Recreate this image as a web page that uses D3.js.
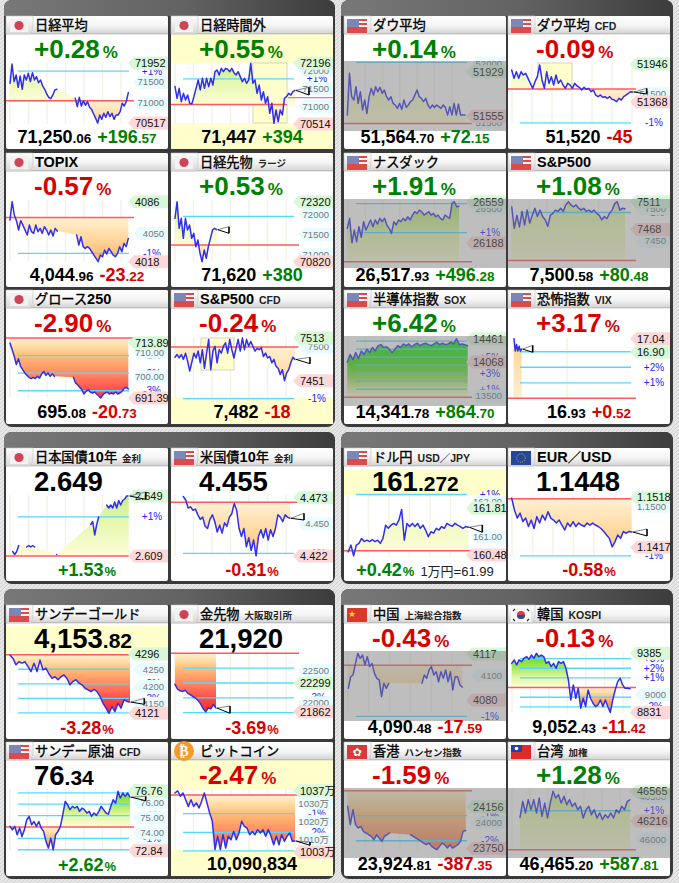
<!DOCTYPE html>
<html><head><meta charset="utf-8">
<style>html,body{margin:0;padding:0;background:#e2e2e2}svg{display:block}text{font-family:"Liberation Sans","Noto Sans CJK JP",sans-serif}</style>
<script src="https://cdn.jsdelivr.net/npm/d3@7"></script></head><body><script>
const _=null;
// ---- series values
const nikkei=[71472,71936,71512,71672,71376,71648,71328,71672,71552,71712,71512,71728,71552,71632,71488,71552,71408,71328,71216,71136,71104,71192,71312,71328,_,_,_,_,_,_,_,_,71112,70912,71136,70928,71056,70944,71032,70896,70848,70736,70632,70517,70712,70608,70752,70656,70792,70672,70752,70608,70712,70712,70792,70992,70928,71032,71250];
const nikkeiOff=[71550,71226,71503,71133,71364,71180,71318,71087,71069,71272,71503,71734,71457,71780,71503,71780,71550,71780,71595,71965,72011,71873,72057,71965,72057,72030,71965,72057,71937,71873,71965,71826,71688,71780,71642,71734,72196,71642,71734,71364,71595,71180,71410,71087,71272,70810,71087,70533,70902,70580,70902,70764,71226,71272,71364,71318,71410,71447];
const topix=[4065.2,4086,4070.9,4064.5,4053.9,4064.5,4059.5,4053.9,4048.2,4059.5,4052,4050.1,4059.5,4052,4055.8,4050.1,4057.6,4053.9,4048.2,4053.9,4047,4055.8,4052.7,_,_,_,_,_,_,_,_,4048.2,4036.9,4046.3,4035,4033.1,4035,4033.1,4029.3,4025.5,4021.7,4018,4025.5,4023.6,4031.2,4026.7,4033.1,4029.3,4025.5,4023.6,4027.4,4035,4029.3,4038.8,4035,4044.4];
const nikkeiFut=[71904,72320,71654,71904,71404,71904,71612,71737,71404,71529,71196,71362,71029,70820,71112,70904,71196,71404,71612,71654,71620];
const growth=[713.8,711.1,708.4,705,707.4,704.3,702.9,701.6,700.6,699.8,699.3,699.8,699.3,700.2,699.5,701.2,702.2,700.6,701.6,700.2,701.2,700.2,_,_,_,_,_,_,_,_,699.8,697.5,696.8,695.7,694.8,693,694.1,694.8,693.8,693.4,693.8,693,692.2,691.4,692.7,693.4,693.8,693,693.4,693,693.8,693,693.4,694.1,695.2,695.7,695.08];
const spCfd=[7485,7489,7484,7489,7482,7491,7479,7465,7478,7491,7484,7494,7477,7496,7469,7491,7511,7467,7494,7501,7477,7496,7491,7501,7506,7491,7511,7496,7484,7498,7511,7494,7513,7496,7511,7501,7508,7501,7494,7498,7496,7499,7486,7491,7484,7486,7477,7482,7472,7469,7460,7467,7451,7462,7467,7477,7485,7482];
const dow=[51564,51916,51719,51691,51803,51663,51761,51607,51691,51579,51719,51789,51733,51803,51761,51798,51747,51775,51719,51691,51719,51663,51649,51621,51663,51612,51691,51629,51649,51677,51691,51733,51775,51719,51705,51677,51705,51649,51621,51649,51629,51649,51635,51621,51649,51629,51564,51635,51564,51663,51564,51657,51564,51564,51564];
const dowCfd=[51855,51728,51829,51728,51829,51779,51804,51728,51652,51576,51677,51753,51931,51703,51576,51829,51652,51753,51627,51779,51652,51703,51627,51576,51652,51627,51576,51652,51611,51591,51550,51591,51561,51576,51525,51550,51474,51449,51474,51439,51449,51424,51449,51409,51398,51373,51424,51398,51449,51474,51500,51525,51520];
const nasdaq=[26320,26410,26191,26305,26200,26335,26239,26380,26305,26350,26395,26335,26395,26359,26410,26380,26410,26350,26320,26275,26380,26350,26395,26380,26410,26389,26424,26395,26439,26469,26454,26484,26469,26439,26454,26469,26439,26454,26424,26439,26410,26395,26439,26424,26410,26544,26559,26514,26518];
const sp500=[7503,7470,7490,7472,7496,7475,7498,7478,7490,7501,7488,7498,7488,7483,7473,7490,7493,7498,7496,7501,7496,7506,7511,7506,7503,7506,7501,7498,7501,7496,7498,7495,7498,7493,7490,7483,7488,7485,7493,7498,7508,7511,7498,7501,7500];
const sox=[14068,14197,14109,14227,14127,14256,14197,14285,14227,14314,14256,14344,14361,14314,14326,14285,14227,14285,14344,14314,14373,14344,14373,14326,14361,14385,14344,14373,14385,14361,14344,14373,14402,14361,14385,14361,14373,14402,14373,14461,14361,14373,14361,14342];
const vix=[17.04,16.91,16.98,16.91,16.96,16.91,16.93];
const jgb=[2.612,2.610,2.612,2.616,_,_,_,2.615,2.616,2.615,2.616,2.615,_,_,_,_,_,_,_,_,_,_,2.610,_,_,_,_,_,_,_,_,_,_,_,_,_,_,_,_,2.630,2.632,2.623,2.630,2.635,_,_,_,2.643,2.641,2.643,2.641,2.645,2.641,2.646,2.643,2.646,2.647,2.649,2.649];
const ust=[4.474,4.471,4.464,4.465,4.462,4.463,4.458,4.454,4.456,4.448,4.446,4.454,4.458,4.452,4.443,4.449,4.442,4.451,4.448,4.456,4.459,4.468,4.462,4.446,4.439,4.446,4.430,4.438,4.427,4.436,4.422,4.439,4.445,4.438,4.446,4.436,4.445,4.439,4.446,4.458,4.456,4.452,4.458,4.456,4.455];
const usdjpy=[160.57,160.76,160.45,160.76,160.81,160.95,160.86,160.90,160.86,160.92,160.86,160.90,160.81,160.95,161.33,161.24,161.33,161.38,161.33,161.48,161.78,160.90,161.38,161.29,161.38,161.29,161.38,161.24,161.33,161.19,161,161.14,161.10,161.24,161.19,161.29,161.24,161.38,161.33,161.30,161.38,161.33,161.29,161.24,161.29,161.27];
const eurusd=[1.1516,1.1492,1.1476,1.1486,1.1469,1.1476,1.1459,1.1472,1.1455,1.1479,1.1466,1.1482,1.1472,1.1489,1.1476,1.1472,1.1466,1.1472,1.1462,1.1452,1.1466,1.1459,1.1469,1.1459,1.1466,1.1462,1.1459,1.1466,1.1462,1.1466,1.1462,1.1459,1.1455,1.1449,1.1442,1.1435,1.1418,1.1428,1.1442,1.1435,1.1449,1.1445,1.1449,1.1448];
const gold=[4293,4283,4264,4273,4269,4273,4259,4244,4269,4244,4278,4249,4254,4237,4224,4229,4220,4229,4234,4224,4205,4215,4220,4210,4205,4195,4190,4185,4192,4185,4171,4151,4136,4121,4141,4126,4151,4136,4161,4156,4154];
const goldFut=[22285,22210,22185,22175,22195,22145,22125,22095,22075,22035,21985,21910,21862,21925,21910,21975,21920];
const oil=[74.43,74.21,74.43,73.88,74.32,73.77,74.21,74.86,75.08,74.54,74.75,74.43,74.75,74.32,74.10,73.45,73.01,73.66,72.90,73.88,74.10,74.43,75.19,76.06,75.84,75.52,75.74,75.63,75.74,75.41,75.63,75.52,75.30,75.41,75.08,75.30,75.15,75.41,75.74,75.52,75.30,75.23,75.74,76.17,75.95,76.72,76.28,76.61,76.39,76.61,76.34];
const btc=[1035.7,1037,1033.9,1035.7,1032,1028.3,1032,1028.3,1030.2,1027.4,1031.1,1035.7,1030.2,1024.6,1020,1004.3,1011.7,1004.3,1012.6,1005.2,1011.7,1009.8,1014.4,1009.8,1013.5,1020,1017.2,1016.3,1012.6,1014.4,1012.6,1015.4,1013.5,1015.4,1011.7,1015.4,1011.7,1007,1011.7,1007,1012.6,1008.9,1011.7,1013.5,1008.9,1009.1];
const shanghai=[4089.5,4098.8,4100.2,4109.5,4117.5,4113.5,4116.2,4108.2,4114.9,4106.9,4109.5,4101.5,4097.5,4096.2,4082.8,4093.5,4089.5,4093.5,_,_,_,_,_,_,_,_,_,_,_,_,_,4093.5,4100.2,4097.5,4104.2,4106.9,4100.2,4102.8,4094.8,4102.8,4097.5,4104.2,4094.8,4102.8,4088.2,4098.8,4098.8,4092.2,4090.5];
const kospi=[9291,9323,9276,9323,9307,9338,9354,9329,9369,9338,9385,9354,9369,9354,9291,9307,9260,9291,9245,9307,9291,9307,9245,9135,8948,9089,8964,9057,8870,8964,8886,9042,8964,8917,8886,8901,8948,8886,8948,8886,8831,8948,9042,9120,9151,9089,9057,9057,9052];
const hangseng=[24160,23982,24127,23982,23949,23965,23917,23901,23884,23868,23836,23884,23852,23820,23868,23884,23901,_,_,_,_,_,_,_,23884,23868,23852,23836,23820,23803,23787,23803,23771,23755,23739,23771,23803,23787,23755,23787,23755,23771,23787,23820,23917,23925];
const taiwan=[46258,46447,46310,46467,46349,46467,46310,46486,46270,46427,46251,46427,46565,46486,46526,46427,46506,46408,46467,46388,46427,46349,46388,46251,46349,46388,46290,46349,46251,46310,46231,46290,46251,46310,46251,46349,46310,46388,46349,46447,46465];

// ---- categories and labels, in display order
const titles=["日経平均","日経時間外","TOPIX","日経先物","グロース250","S&P500","ダウ平均","ダウ平均","ナスダック","S&P500","半導体指数","恐怖指数","日本国債10年","米国債10年","ドル円","EUR／USD","サンデーゴールド","金先物","サンデー原油","ビットコイン","中国","韓国","香港","台湾"];
const subtitles=["","","","ラージ","","CFD","","CFD","","","SOX","VIX","金利","金利","USD／JPY","","","大阪取引所","CFD","","上海総合指数","KOSPI","ハンセン指数","加権"];
const flags=["jp","jp","jp","jp","jp","us","us","us","us","us","us","us","jp","us","us","eu","us","jp","us","btc","cn","kr","hk","tw"];
const seriesList=[nikkei,nikkeiOff,topix,nikkeiFut,growth,spCfd,dow,dowCfd,nasdaq,sp500,sox,vix,jgb,ust,usdjpy,eurusd,gold,goldFut,oil,btc,shanghai,kospi,hangseng,taiwan];
const prevCloses=[71053,71053,4068.18,71240,715.81,7500,51492.55,51565,26021.65,7420.1,13477.08,16.41,2.609,4.469,160.6,1.1515,4294,22760,74.39,1034.6,4108.07,9063.85,24312.16,45877.39];
const topY=[71952,72196,4086,72320,715.81,7513,52000,51946,26559,7511,14461,17.04,2.649,4.473,162,1.1518,4296,22760,76.76,1037,4117,9385,24312,46565];
const bottomY=[70496,70514,4018,70820,691.38,7451,51500,51368,26021,7418.3,13465,16.41,2.609,4.422,160.448,1.1417,4121,21840,72.84,1003.7,4069.2,8823,23729,45866];
const highLabels=["71952","72196","4086","72320","713.89","7513","51929","51946","26559","7511","14461","17.04","2.649","4.473","161.81","1.1518","4296","22299","76.76","1037万","4117","9385","24156","46565"];
const lowLabels=["70517","70514","4018","70820","691.39","7451","51555","51368","26188","7468","14068","16.90","2.609","4.422","160.48","1.1417","4121","21862","72.84","1003万","4080","8831","23750","46216"];
const tickLabels=[["71500","71000"],["72000","71500","71000"],["4050"],["72000","71500","71000"],["710.00","700.00"],["7500"],["52000","51500"],["51500"],["26500"],["7500","7450"],["13500"],[],[],["4.450"],["162.00","161.00"],["1.1500"],["4250","4200","4150"],["22500","22000"],["76.00","75.00","74.00","73.00"],["1030万","1020万","1010万"],["4100"],["9000"],["24000"],["46500","46000"]];
const pctLines=[[1],[1],[-1],[1],[-1,-2,-3],[-1],[1],[-1],[1,2],[1],[1,2,3,4,5,6,7],[1,2,3],[1],[-1],[1],[-1],[-1,-2,-3,-4],[-1,-2,-3,-4],[3,2,1,-1,-2],[-1,-2,-3],[-1],[3,2,1,-1,-2],[-1,-2],[1]];
const pctUnlabelled={3:[1],8:[2],10:[2,4,6,7],11:[3]};
// headline number, percent, value and change strings
const mainPct=["+0.28","+0.55","-0.57","+0.53","-2.90","-0.24","+0.14","-0.09","+1.91","+1.08","+6.42","+3.17","+1.53","-0.31","+0.42","-0.58","-3.28","-3.69","+2.62","-2.47","-0.43","-0.13","-1.59","+1.28"];
const valueInt=["71,250","71,447","4,044","71,620","695","7,482","51,564","51,520","26,517","7,500","14,341","16","2.649","4.455","161","1.1448","4,153","21,920","76","10,090,834","4,090","9,052","23,924","46,465"];
const valueDec=[".06","",".96","",".08","",".70","",".93",".58",".78",".93","","",".272","",".82","",".34","",".48",".43",".81",".20"];
const changeInt=["+196","+394","-23","+380","-20","-18","+72","-45","+496","+80","+864","+0","","","","","","","","","-17","-11","-387","+587"];
const changeDec=[".57","",".22","",".73","",".15","",".28",".48",".70",".52","","","","","","","","",".59",".42",".35",".81"];
const valueOnTop=[12,13,14,15,16,17,18];
const notes={14:"1万円=61.99"};
const inverted=[11];
const afterLevels={1:71244};

// ---- layout, kept apart from the data
const colX=[6,171,344,508], rowY=[16,153,290,448,605,742], rowH=[133,134,134,133,134,134];
const cell=[[0,0],[0,1],[1,0],[1,1],[2,0],[2,1],[0,2],[0,3],[1,2],[1,3],[2,2],[2,3],[3,0],[3,1],[3,2],[3,3],[4,0],[4,1],[5,0],[5,1],[4,2],[4,3],[5,2],[5,3]];
const rangeY=[[47.3,108],[47.3,108],[48.7,108.7],[48.7,108.7],[48,108],[48,90.7],[47.3,106.7],[48,86],[48.7,108.7],[48.7,108.7],[48.7,108],[48.7,108.3],[48,108],[49.7,108],[53.7,108],[49.3,99.3],[49,108.3],[48.3,108.3],[48.7,108.7],[48.7,108.7],[49,108.7],[48.3,108.3],[48.7,108.7],[49.3,108.7]];
const rangeX=[[4,122.3],[4,124],[4,122.3],[4,45.7],[4,122.3],[4,124],[3.3,121],[3.7,125],[3.3,115],[3.7,117],[3.3,123.7],[6,13.7],[6.7,122.7],[12.3,119],[4.3,124.3],[3.7,123.7],[4,124],[4,45],[4,124],[4,124],[4.3,118.3],[3.7,122],[3.7,121.7],[12,122]];
const grayBand={6:[45,115],8:[46,115],9:[46,115],10:[46,116],20:[46,116],22:[46,116],23:[46,116]};
const yellowRects={1:[[0,18,162,29],[0,107,162,26]],5:[[0,107,162,27]],14:[[0,21,162,26]],16:[[0,21,162,27]],19:[[0,18,162,30],[0,108,162,26]]};
const yellowBoxes={1:[82,47,34,60],5:[30,48,33,32],7:[30,47,34,27]};
const markers={1:[138,71.3,79],3:[58,73.7,80.3],5:[139,67.3,73.7],7:[138.7,72.3,78],11:[24.7,55.3,62.3],12:[139.7,44,51.3],13:[133,65.3,72],14:[138.3,77,84.3],15:[139,81,88],16:[138.3,93.3,99.3],17:[59,101,108.3],18:[139.7,54.3,58.7],19:[139,100,103.3]};
const redWidth={1:116};
const gridStep={6:17.3,7:20,8:17.3,9:17.3,10:17.3,14:20.5,15:20.5,20:20.8,21:18.5,22:17.3,23:18};

const W=679,H=883;
const svg=d3.select("body").append("svg").attr("width",W).attr("height",H);
const defs=svg.append("defs");
const pat=defs.append("pattern").attr("id","hatch").attr("width",4).attr("height",4).attr("patternUnits","userSpaceOnUse");
pat.append("rect").attr("width",4).attr("height",4).attr("fill","#e6e6e6");
pat.append("path").attr("d","M0 4L4 0").attr("stroke","#d2d2d2").attr("stroke-width",1);
function lg(id,x2,y2,stops){const g=defs.append("linearGradient").attr("id",id).attr("x1",0).attr("y1",0).attr("x2",x2).attr("y2",y2);stops.forEach(s=>g.append("stop").attr("offset",s[0]).attr("stop-color",s[1]));return g;}
lg("hdr",0,1,[[0,"#ffffff"],[.55,"#f4f4f4"],[1,"#d2d2d2"]]);
lg("cap",1,0,[[0,"#787878"],[.55,"#626262"],[1,"#3c3c3c"]]);
lg("tab",0,1,[[0,"#ffffff"],[1,"#d8d8d8"]]);
svg.append("rect").attr("width",W).attr("height",H).attr("fill","url(#hatch)");

// group frames
[[4,0,331,427],[341,0,332,427],[4,432,331,152],[341,432,332,152],[4,589,331,290],[341,589,332,290]].forEach(f=>{
  const g=svg.append("g");
  g.append("rect").attr("x",f[0]).attr("y",f[1]).attr("width",f[2]).attr("height",f[3]).attr("rx",8).attr("fill","#3a3a3a");
  g.append("path").attr("d",`M${f[0]} ${f[1]+16}V${f[1]+8}a8 8 0 0 1 8 -8H${f[0]+f[2]-8}a8 8 0 0 1 8 8V${f[1]+16}Z`).attr("fill","url(#cap)");
});

const UP=[[0,"#fdfdd8"],[1,"#e2f7a8"],[2,"#a8e860"],[3,"#70e030"],[4,"#40e010"],[7,"#00f000"]];
const DOWN=[[0,"#fff0d4"],[.5,"#ffdca4"],[1,"#ffbe78"],[2,"#ff8a60"],[3,"#ff4c4c"],[4,"#ff2424"]];

function flag(g,k){
  if(k==="btc"){
    g.append("circle").attr("cx",13).attr("cy",9).attr("r",10).attr("fill","#f39a2b");
    g.append("text").attr("x",13).attr("y",14).attr("text-anchor","middle").attr("font-size",14).attr("font-weight","bold").attr("fill","#fff").style("font-family","DejaVu Sans").text("₿");
    return;
  }
  g.append("path").attr("d","M0 0H27V12L25 18H0Z").attr("fill","url(#tab)").attr("stroke","#c4c4c4").attr("stroke-width",.6);
  const f=g.append("g").attr("transform","translate(3,3)");
  const r=(x,y,w,h,c)=>f.append("rect").attr("x",x).attr("y",y).attr("width",w).attr("height",h).attr("fill",c);
  if(k==="jp"){r(1,0,18,13,"#f2f2f2");f.append("circle").attr("cx",10).attr("cy",6.5).attr("r",4.6).attr("fill","#cc4455");}
  if(k==="us"){r(0,0,20,14,"#f4f4f4");[0,4,8,11].forEach(y=>r(0,y,20,y>7?3:2,"#dd4a4a"));r(0,0,12,8,"#7c86b8");}
  if(k==="cn"){r(0,0,20,14,"#d83a2a");f.append("text").attr("x",1.5).attr("y",8).attr("font-size",7).attr("fill","#ffd84a").text("★");}
  if(k==="hk"){r(0,0,20,14,"#d83a3a");f.append("text").attr("x",10).attr("y",11).attr("text-anchor","middle").attr("font-size",11).attr("fill","#fff").style("font-family","DejaVu Sans").text("✿");}
  if(k==="tw"){r(0,0,20,14,"#e02a2a");r(0,0,11,7,"#2a3ea8");f.append("circle").attr("cx",5.5).attr("cy",3.5).attr("r",1.8).attr("fill","#fff");}
  if(k==="eu"){r(0,0,20,14,"#24479a");f.append("circle").attr("cx",10).attr("cy",7).attr("r",4.2).attr("fill","none").attr("stroke","#c8b640").attr("stroke-width",1).attr("stroke-dasharray","1 1.2");}
  if(k==="kr"){r(0,0,20,14,"#f8f8f8");f.append("circle").attr("cx",10).attr("cy",7).attr("r",4).attr("fill","#d83a4a");f.append("path").attr("d","M6 7a4 4 0 0 0 8 0Z").attr("fill","#2a4a9a");f.append("path").attr("d","M2 3l2 -2M16 1l2 2M2 11l2 2M16 13l2 -2").attr("stroke","#333").attr("stroke-width",1.2);}
}
function rich(g,x,y,anchor,parts){
  const t=g.append("text").attr("x",x).attr("y",y).attr("text-anchor",anchor).attr("font-weight","bold");
  parts.forEach(p=>{if(!p.t)return;const s=t.append("tspan").attr("font-size",p.size).attr("fill",p.color||"#000").text(p.t);if(p.dx)s.attr("dx",p.dx);if(p.normal)s.attr("font-weight","normal");});
  return t;
}
function title(g,txt,sub){
  const t=g.append("text").attr("x",29).attr("y",14);
  (txt.match(/[\x00-\x7f]+|[^\x00-\x7f]+/g)||[]).forEach(run=>{
    const ascii=/^[\x00-\x7f]/.test(run);
    t.append("tspan").attr("font-size",ascii?14.5:13.2).attr("font-weight",ascii?"bold":"normal").attr("fill","#000")
      .style("font-family",ascii?"Liberation Sans":"Noto Sans CJK JP").attr("stroke",ascii?"none":"#000").attr("stroke-width",.35).text(run);
  });
  if(sub){const ascii=/^[A-Z／]+$/.test(sub);t.append("tspan").attr("dx",5).attr("font-size",ascii?10.5:9.5).attr("font-weight","bold").attr("fill","#222").text(sub);}
}
function tag(g,y,fill,apex){g.append("path").attr("d",`M${apex} ${y}L${apex+6} ${y-6.5}H162V${y+6.5}H${apex+6}Z`).attr("fill",fill);}

titles.forEach((ttl,i)=>{
  const [r,c]=cell[i], px=colX[c], py=rowY[r], h=rowH[r], w=162;
  const g=svg.append("g").attr("transform",`translate(${px},${py})`);
  const vals=seriesList[i], prev=prevCloses[i], inv=inverted.includes(i);
  const x=d3.scaleLinear().domain([0,vals.length-1]).range(rangeX[i]);
  const y=d3.scaleLinear().domain([topY[i],bottomY[i]]).range(rangeY[i]);

  g.append("rect").attr("width",w).attr("height",h).attr("rx",2).attr("fill","#fff");
  (yellowRects[i]||[]).forEach(q=>g.append("rect").attr("x",q[0]).attr("y",q[1]).attr("width",q[2]).attr("height",q[3]).attr("fill","#ffffcc"));
  const step=gridStep[i]||18.5;
  if(i===11){[6,59].forEach(gx=>g.append("line").attr("x1",gx).attr("x2",gx).attr("y1",48).attr("y2",108).attr("stroke","#f3f3e6").attr("stroke-width",1.5));}
  else d3.range(4,125,step).forEach(gx=>g.append("line").attr("x1",gx).attr("x2",gx).attr("y1",47).attr("y2",108).attr("stroke","#f3f3e6").attr("stroke-width",1.5));
  if(yellowBoxes[i]){const q=yellowBoxes[i];g.append("rect").attr("x",q[0]).attr("y",q[1]).attr("width",q[2]).attr("height",q[3]).attr("fill","#ffffcc").attr("stroke","#d4d4c0");}

  // fills
  const pts=vals.map((v,k)=>[k,v]).filter(d=>d[1]!==null);
  const grad=(id,stops,sign,scale)=>{
    const top=stops[stops.length-1][0]/scale;
    const gd=defs.append("linearGradient").attr("id",id).attr("gradientUnits","userSpaceOnUse").attr("x1",0).attr("x2",0)
      .attr("y1",y(prev)).attr("y2",y(prev*(1+sign*top/100)));
    stops.forEach(s=>gd.append("stop").attr("offset",s[0]/stops[stops.length-1][0]).attr("stop-color",s[1]));
  };
  grad("up"+i,inv?DOWN:UP,1,inv?.2:1);
  grad("dn"+i,DOWN,-1,1);
  g.append("path").datum(pts).attr("fill",`url(#up${i})`).attr("d",d3.area().x(d=>x(d[0])).y0(y(prev)).y1(d=>y(Math.max(d[1],prev))));
  g.append("path").datum(pts).attr("fill",`url(#dn${i})`).attr("d",d3.area().x(d=>x(d[0])).y0(y(prev)).y1(d=>y(Math.min(d[1],prev))));

  // percent lines
  pctLines[i].forEach(p=>{
    const yy=y(prev*(1+p/100));
    g.append("line").attr("x1",12).attr("x2",123).attr("y1",yy).attr("y2",yy).attr("stroke","#55d8ff").attr("stroke-width",1.3);
    if(!(pctUnlabelled[i]||[]).includes(p))
      g.append("text").attr("x",146).attr("y",yy+3.5).attr("text-anchor","middle").attr("font-size",10).attr("fill","#2222ff").text((p>0?"+":"")+p+"%");
  });
  // previous close
  g.append("line").attr("x1",0).attr("x2",redWidth[i]||128).attr("y1",y(prev)).attr("y2",y(prev)).attr("stroke","#ff5a5a").attr("stroke-width",1.5);
  if(afterLevels[i]!==undefined) g.append("line").attr("x1",117).attr("x2",162).attr("y1",y(afterLevels[i])).attr("y2",y(afterLevels[i])).attr("stroke","#ee66dd").attr("stroke-width",1.2);
  // price line
  g.append("path").datum(vals).attr("fill","none").attr("stroke","#2f2fee").attr("stroke-width",1.5).attr("stroke-linecap","round").attr("stroke-linejoin","round")
    .attr("d",d3.line().defined(v=>v!==null).x((v,k)=>x(k)).y(v=>y(v)));

  // tick tags
  tickLabels[i].forEach(s=>{
    const yy=y(parseFloat(s));
    tag(g,yy,"#e8fbff",127);
    g.append("text").attr("x",158).attr("y",yy+3.3).attr("text-anchor","end").attr("font-size",9.5).attr("fill","#777").text(s);
  });
  // high / low tags
  const hi=parseFloat(highLabels[i]), lo=parseFloat(lowLabels[i]);
  const tagRow=(s,v,fill)=>{const yy=y(v);tag(g,yy,fill,122);g.append("text").attr("x",129).attr("y",yy+3.8).attr("font-size",11).attr("fill","#111").text(s);};
  tagRow(highLabels[i],hi,inv?"#fdd8d8":"#d8f8d8");
  tagRow(lowLabels[i],lo,inv?"#d8f8d8":"#fdd8d8");

  // end-of-line marker
  if(markers[i]){
    const m=markers[i]; const last=pts[pts.length-1]; const ax=x(last[0])+1, ay=y(last[1]);
    g.append("path").attr("d",`M${ax} ${ay}L${m[0]} ${m[1]}`).attr("stroke","#888").attr("fill","none");
    g.append("path").attr("d",`M${ax} ${ay}L${m[0]} ${m[2]}`).attr("stroke","#000").attr("fill","none");
    g.append("path").attr("d",`M${m[0]} ${m[1]}V${m[2]}`).attr("stroke","#000").attr("stroke-width",1.6);
  }
  if(grayBand[i]){const b=grayBand[i];g.append("rect").attr("y",b[0]).attr("width",w).attr("height",b[1]-b[0]).attr("fill","#7e7e7e").attr("fill-opacity",.5);}

  // header
  g.append("path").attr("d","M0 18V2a2 2 0 0 1 2 -2H160a2 2 0 0 1 2 2V18Z").attr("fill","url(#hdr)");
  g.append("line").attr("x1",0).attr("x2",w).attr("y1",17.8).attr("y2",17.8).attr("stroke","#b4b4b4");
  flag(g,flags[i]);
  title(g,ttl,subtitles[i]);

  // numbers
  const pos=mainPct[i][0]==="+", col=(pos!==inv)?"#008000":"#d80000";
  const chPos=changeInt[i][0]==="+", chCol=(chPos!==inv)?"#008000":"#d80000";
  if(valueOnTop.includes(i)){
    rich(g,28,43,"start",[{t:valueInt[i],size:27.5},{t:valueDec[i],size:21}]);
    const parts=[{t:mainPct[i],size:18,color:col},{t:"%",size:13,color:col,dx:1}];
    if(notes[i]) parts.push({t:notes[i],size:13,color:"#222",dx:6,normal:true});
    rich(g,81,h-5,"middle",parts);
  }else{
    rich(g,28,42,"start",[{t:mainPct[i],size:26,color:col},{t:"%",size:17,color:col,dx:3}]);
    rich(g,81,h-6,"middle",[{t:valueInt[i],size:18},{t:valueDec[i],size:13.5},{t:changeInt[i],size:18,color:chCol,dx:6},{t:changeDec[i],size:13.5,color:chCol}]);
  }
});
</script></body></html>
